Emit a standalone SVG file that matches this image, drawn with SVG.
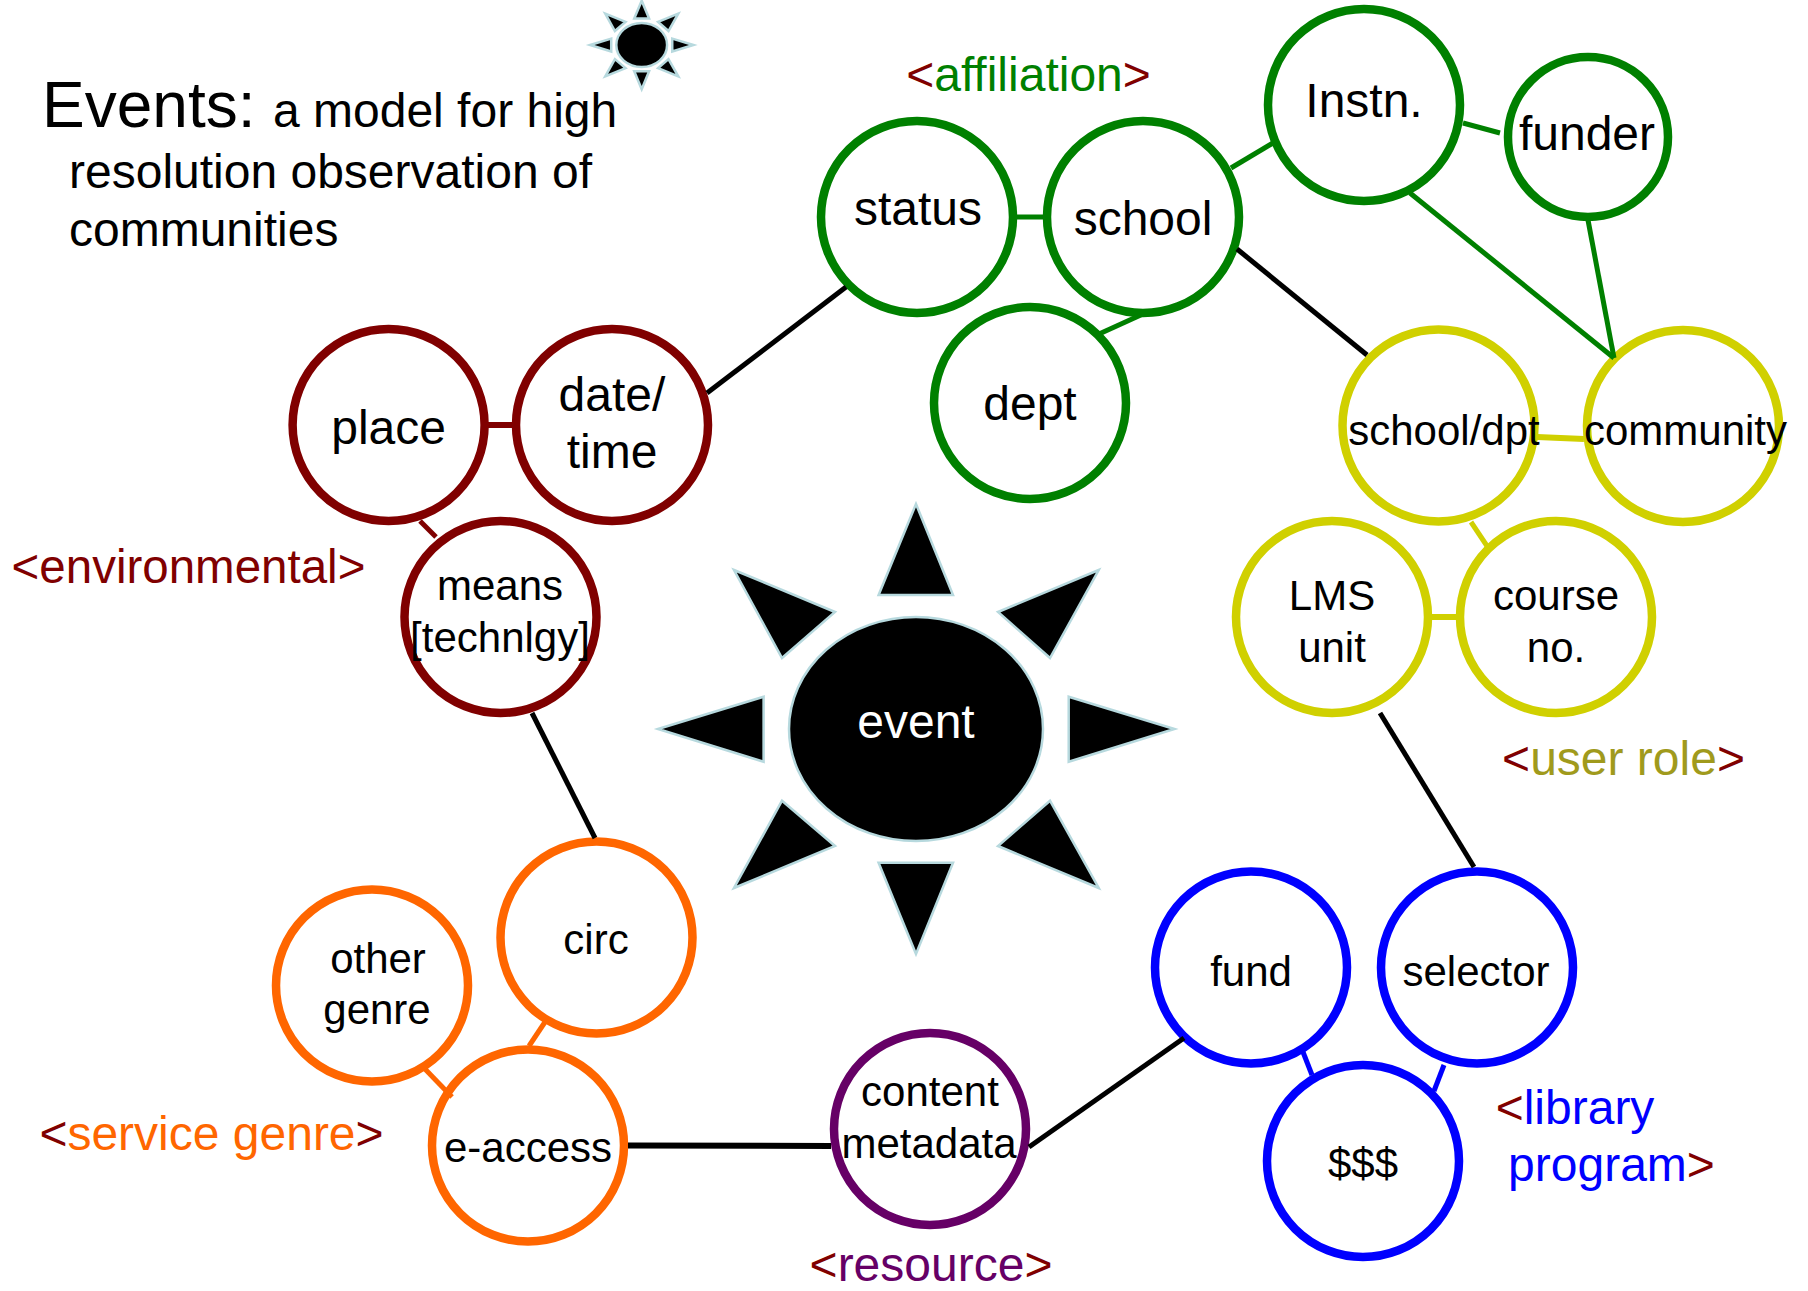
<svg xmlns="http://www.w3.org/2000/svg" width="1808" height="1291" viewBox="0 0 1808 1291">
<style>
text{font-family:"Liberation Sans",Arial,sans-serif;text-anchor:middle;fill:#000}
.n{fill:#fff;stroke-width:8.5}
.t48{font-size:48px}.t42{font-size:42px}
.l{font-size:48px}
.dr{fill:#800000}
.r{stroke:#800000}.g{stroke:#008000}.y{stroke:#d0d000}.o{stroke:#ff6600}.b{stroke:#0000ff}.p{stroke:#660066}
.k{stroke:#000}
#connectors line{stroke-width:5}
#connectors line.w{stroke-width:6}
#rays>*{vector-effect:non-scaling-stroke}
.s{fill:#000;stroke:#b7d9de;stroke-width:2.5}
</style>
<defs>
<g id="rays">
<polygon points="916,504 878.6,595 953,595"/>
<polygon points="734,570 835,612 782,658"/>
<polygon points="1098.7,570 998,612 1050,658"/>
<polygon points="658,729 763.6,696.7 763.6,761.7"/>
<polygon points="1174.4,729 1068.7,696.7 1068.7,761.7"/>
<polygon points="734,888 835,846 782,800.7"/>
<polygon points="1098.7,888 998,846 1050,800.7"/>
<polygon points="916,954 878.6,862.7 953,862.7"/>
<ellipse cx="916" cy="729" rx="127" ry="112"/>
</g>
</defs>
<rect width="1808" height="1291" fill="#fff"/>
<g id="title">
<text x="42" y="127" style="text-anchor:start;font-size:64px">Events:</text>
<text x="273" y="127" style="text-anchor:start;font-size:48px">a model for high</text>
<text x="69" y="188" style="text-anchor:start;font-size:48px">resolution observation of</text>
<text x="69" y="246" style="text-anchor:start;font-size:48px">communities</text>
</g>
<g id="small-sun" class="s"><use href="#rays" transform="translate(641.7 45) scale(.2 .197) translate(-916 -729)"/></g>
<g id="event"><g class="s"><use href="#rays"/></g><text x="916" y="738" class="t48" style="fill:#fff">event</text></g>
<g id="place"><circle class="n r" cx="388.6" cy="425" r="96"/><text x="388.6" y="444" class="t48">place</text></g>
<g id="datetime"><circle class="n r" cx="612" cy="425" r="96"/><text x="612" y="411" class="t48">date/</text><text x="612" y="468" class="t48">time</text></g>
<g id="means"><circle class="n r" cx="500.5" cy="617" r="96"/><text x="500" y="600" class="t42">means</text><text x="500" y="652" class="t42">[technlgy]</text></g>
<g id="status"><circle class="n g" cx="917" cy="217" r="96"/><text x="918" y="225" class="t48">status</text></g>
<g id="school"><circle class="n g" cx="1143" cy="217" r="96"/><text x="1143" y="235" class="t48">school</text></g>
<g id="dept"><circle class="n g" cx="1030" cy="403" r="96"/><text x="1030" y="420" class="t48">dept</text></g>
<g id="instn"><circle class="n g" cx="1364" cy="105" r="96"/><text x="1364" y="117" class="t48">Instn.</text></g>
<g id="funder"><circle class="n g" cx="1588" cy="137" r="80"/><text x="1587" y="150" class="t48">funder</text></g>
<g id="schooldpt"><circle class="n y" cx="1438.5" cy="425.5" r="96"/><text x="1444" y="445" class="t42">school/dpt</text></g>
<g id="community"><circle class="n y" cx="1683" cy="426" r="96"/><text x="1685.5" y="445" class="t42">community</text></g>
<g id="lms"><circle class="n y" cx="1332" cy="617" r="96"/><text x="1332" y="610" class="t42">LMS</text><text x="1332" y="662" class="t42">unit</text></g>
<g id="course"><circle class="n y" cx="1556" cy="617" r="96"/><text x="1556" y="610" class="t42">course</text><text x="1556" y="662" class="t42">no.</text></g>
<g id="selector"><circle class="n b" cx="1477" cy="967.5" r="96"/><text x="1476" y="986" class="t42">selector</text></g>
<g id="fund"><circle class="n b" cx="1251" cy="967.5" r="96"/><text x="1251" y="986" class="t42">fund</text></g>
<g id="money"><circle class="n b" cx="1363" cy="1161" r="96"/><text x="1363" y="1178" class="t42">$$$</text></g>
<g id="content"><circle class="n p" cx="930" cy="1129" r="96"/><text x="930" y="1106" class="t42">content</text><text x="929" y="1158" class="t42">metadata</text></g>
<g id="eaccess"><circle class="n o" cx="528" cy="1145.5" r="96"/><text x="528" y="1162" class="t42">e-access</text></g>
<g id="circ"><circle class="n o" cx="596.5" cy="937.5" r="96"/><text x="596" y="954" class="t42">circ</text></g>
<g id="other"><circle class="n o" cx="372" cy="985.5" r="96"/><text x="378" y="973" class="t42">other</text><text x="377" y="1024" class="t42">genre</text></g>
<g id="connectors">
<line class="k" x1="846" y1="287" x2="707" y2="393"/>
<line class="k" x1="1237" y1="249" x2="1367" y2="355"/>
<line class="k" x1="532" y1="713" x2="595" y2="838"/>
<line class="k" x1="1380" y1="713" x2="1474" y2="867"/>
<line class="k w" x1="628" y1="1145.5" x2="831" y2="1146"/>
<line class="k" x1="1029" y1="1147" x2="1184" y2="1038"/>
<line class="r w" x1="487" y1="425" x2="515" y2="425"/>
<line class="r" x1="420" y1="521" x2="436" y2="537"/>
<line class="g" x1="1013" y1="217" x2="1046" y2="217"/>
<line class="g" x1="1099" y1="334" x2="1143" y2="314"/>
<line class="g" x1="1231" y1="168" x2="1273" y2="143"/>
<line class="g" x1="1463" y1="123" x2="1500" y2="133"/>
<line class="g" x1="1410" y1="193" x2="1614" y2="358"/>
<line class="g" x1="1588" y1="220" x2="1614" y2="358"/>
<line class="y w" x1="1537" y1="437" x2="1584" y2="439"/>
<line class="y" x1="1471" y1="522" x2="1487" y2="546"/>
<line class="y w" x1="1431" y1="617" x2="1456" y2="617"/>
<line class="o" x1="425" y1="1069" x2="452" y2="1097"/>
<line class="o" x1="545" y1="1022" x2="529" y2="1046"/>
<line class="b" x1="1303" y1="1052" x2="1312" y2="1075"/>
<line class="b" x1="1444" y1="1065" x2="1434" y2="1091"/>
</g>
<g id="labels">
<text x="1028.5" y="91" class="l"><tspan class="dr">&lt;</tspan><tspan fill="#008000">affiliation</tspan><tspan class="dr">&gt;</tspan></text>
<text x="188.5" y="583" class="l" style="font-size:47.5px"><tspan class="dr">&lt;environmental&gt;</tspan></text>
<text x="1623.5" y="775" class="l"><tspan class="dr">&lt;</tspan><tspan fill="#a09a1c">user role</tspan><tspan class="dr">&gt;</tspan></text>
<text x="211.5" y="1150" class="l"><tspan class="dr">&lt;</tspan><tspan fill="#ff6600">service genre</tspan><tspan class="dr">&gt;</tspan></text>
<text x="931" y="1280.5" class="l"><tspan class="dr">&lt;</tspan><tspan fill="#660066">resource</tspan><tspan class="dr">&gt;</tspan></text>
<text x="1575" y="1124" class="l"><tspan class="dr">&lt;</tspan><tspan fill="#0000ff">library</tspan></text>
<text x="1611.5" y="1181" class="l"><tspan fill="#0000ff">program</tspan><tspan class="dr">&gt;</tspan></text>
</g>
</svg>
